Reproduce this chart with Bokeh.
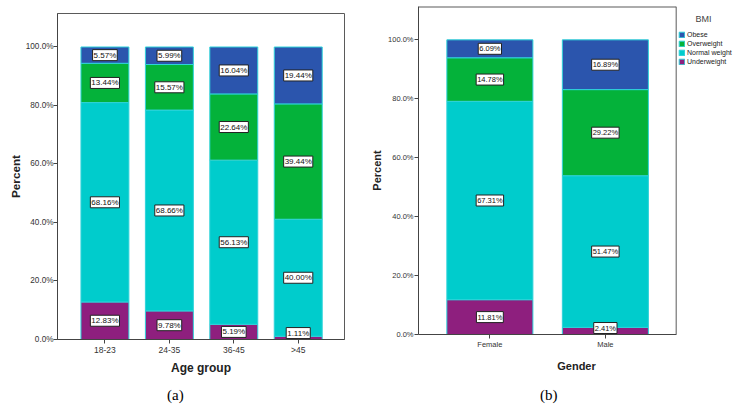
from bokeh.plotting import figure
from bokeh.models import Range1d, FixedTicker, PrintfTickFormatter, Legend, LegendItem, Div, Span
from bokeh.layouts import row, column
from bokeh.embed import file_html
from bokeh.resources import INLINE
from bokeh.core.properties import value

# ---------------- data ----------------
bmi_levels = ["Underweight", "Normal weight", "Overweight", "Obese"]
bmi_colors = ["#8E1F7E", "#00CCCC", "#04B23A", "#2B55AD"]

age_groups = ["18-23", "24-35", "36-45", ">45"]
age_underweight = [12.83, 9.78, 5.19, 1.11]
age_normal = [68.16, 68.66, 56.13, 40.00]
age_overweight = [13.44, 15.57, 22.64, 39.44]
age_obese = [5.57, 5.99, 16.04, 19.44]

genders = ["Female", "Male"]
gender_underweight = [11.81, 2.41]
gender_normal = [67.31, 51.47]
gender_overweight = [14.78, 29.22]
gender_obese = [6.09, 16.89]

y_ticks = [0, 20, 40, 60, 80, 100]

FONT = "Liberation Sans"


def make_chart(cats, series, width, height, borders, x_span, y_max, bar_w,
               tick_size, y_tick_size, axis_title_size, label_size, x_title,
               x_tick_standoff, x_label_standoff, y_tick_standoff, y_label_standoff):
    p = figure(width=width, height=height, output_backend="svg", toolbar_location=None,
               x_range=Range1d(*x_span), y_range=Range1d(0, y_max),
               min_border_left=borders[0], min_border_right=borders[1],
               min_border_top=borders[2], min_border_bottom=borders[3])
    p.title.visible = False
    p.background_fill_color = "white"
    p.border_fill_color = "white"
    p.outline_line_color = "#5a5a5a"
    p.outline_line_width = 1
    p.xgrid.visible = False
    p.ygrid.visible = False

    xs = list(range(1, len(cats) + 1))
    bottoms = [0.0] * len(cats)
    renderers = []
    label_x, label_y, label_t = [], [], []
    for vals, col in zip(series, bmi_colors):
        tops = [b + v for b, v in zip(bottoms, vals)]
        r = p.vbar(x=xs, width=bar_w, bottom=bottoms, top=tops,
                   fill_color=col, line_color="#2ED3DA", line_width=1)
        renderers.append(r)
        for x, b, t, v in zip(xs, bottoms, tops, vals):
            label_x.append(x)
            label_y.append(max((b + t) / 2.0, 2.2))
            label_t.append(f"{v:.2f}%")
        bottoms = tops

    p.text(x=label_x, y=label_y, text=label_t, text_align="center", text_baseline="middle",
           text_font=value(FONT), text_font_size=f"{label_size}px", text_color="#111111",
           background_fill_color="white", border_line_color="#222222", border_line_width=1,
           padding=1)

    p.yaxis.ticker = FixedTicker(ticks=y_ticks)
    p.yaxis.formatter = PrintfTickFormatter(format="%.1f%%")
    p.xaxis.ticker = FixedTicker(ticks=xs)
    p.xaxis.major_label_overrides = {x: c for x, c in zip(xs, cats)}
    for ax in (p.xaxis[0], p.yaxis[0]):
        ax.minor_tick_line_color = None
        ax.major_tick_in = 0
        ax.major_tick_out = 4
        ax.axis_line_color = "#444444"
        ax.major_tick_line_color = "#444444"
        ax.major_label_text_font = FONT
        ax.major_label_text_font_size = f"{tick_size}px"
        ax.major_label_text_color = "#333333"
        ax.axis_label_text_font = FONT
        ax.axis_label_text_font_style = "bold"
        ax.axis_label_text_font_size = f"{axis_title_size}px"
        ax.axis_label_text_color = "#222222"
    p.yaxis.major_label_text_font_size = f"{y_tick_size}px"
    p.yaxis.axis_label = "Percent"
    p.yaxis.major_label_standoff = y_tick_standoff
    p.yaxis.axis_label_standoff = y_label_standoff
    p.xaxis.axis_label = x_title
    p.xaxis.major_label_standoff = x_tick_standoff
    p.xaxis.axis_label_standoff = x_label_standoff
    return p, renderers


# ---- chart (a): age group ----
p1, _ = make_chart(age_groups, [age_underweight, age_normal, age_overweight, age_obese],
                   width=362, height=384, borders=(57, 18, 13, 45),
                   x_span=(0.264, 4.718), y_max=111.45, bar_w=0.744,
                   tick_size=8.5, y_tick_size=8.2, axis_title_size=11.7, label_size=8,
                   x_title="Age group", x_tick_standoff=1, x_label_standoff=3,
                   y_tick_standoff=0, y_label_standoff=1)
p1.xaxis.axis_label_text_font_size = "12px"

# ---- chart (b): gender (frame extended to the right to hold the legend) ----
g_x_start, g_x_end, g_frame_end = 0.382, 2.613, 3.118
g_y_max = 111.3
p2, rends = make_chart(genders, [gender_underweight, gender_normal, gender_overweight, gender_obese],
                       width=372, height=384, borders=(56, 0, 6, 50),
                       x_span=(g_x_start, g_frame_end), y_max=g_y_max, bar_w=0.745,
                       tick_size=7.5, y_tick_size=7.5, axis_title_size=11, label_size=7.5,
                       x_title="Gender", x_tick_standoff=1, x_label_standoff=8,
                       y_tick_standoff=1, y_label_standoff=2)
p2.outline_line_color = None
p2.xaxis.bounds = (g_x_start, g_x_end)
p2.add_layout(Span(location=g_x_end, dimension="height", line_color="#5a5a5a", line_width=1))
p2.segment(x0=[g_x_start], y0=[g_y_max], x1=[g_x_end], y1=[g_y_max],
           line_color="#5a5a5a", line_width=2)

legend = Legend(items=[LegendItem(label=lab, renderers=[r])
                       for lab, r in zip(bmi_levels[::-1], rends[::-1])],
                title="\u00a0" * 7 + "BMI", title_text_font=FONT, title_text_font_size="9px",
                title_text_font_style="normal", title_text_color="#444444", title_standoff=7,
                location=(260, 269), orientation="vertical",
                glyph_width=7, glyph_height=7, label_height=7, spacing=2,
                label_standoff=2, padding=0, margin=0,
                label_text_font=FONT, label_text_font_size="7px", label_text_color="#222222",
                background_fill_alpha=0, border_line_alpha=0)
p2.add_layout(legend)

cap_style = ("font-family:'Liberation Serif';font-size:15px;line-height:17px;"
             "color:#000;padding-top:3px;white-space:nowrap;margin:0;")
div_a = Div(text=f'<div style="{cap_style}padding-left:167px;">(a)</div>',
            width=362, height=24, margin=0)
div_b = Div(text=f'<div style="{cap_style}padding-left:178px;">(b)</div>',
            width=372, height=24, margin=0)

layout = row(column(p1, div_a, spacing=0), column(p2, div_b, spacing=0), spacing=0)
open("out.html", "w").write(file_html(layout, INLINE))
